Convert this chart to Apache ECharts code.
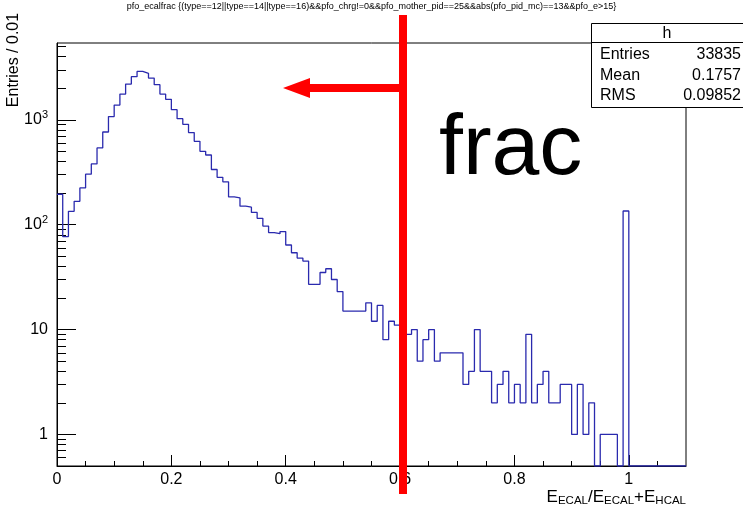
<!DOCTYPE html>
<html><head><meta charset="utf-8">
<script src="https://cdn.jsdelivr.net/npm/echarts@6/dist/echarts.min.js"></script>
<style>html,body{margin:0;padding:0;background:#fff}#c{width:743px;height:511px}</style>
</head><body><div id="c"></div>
<script>
// ---- data ----
const histTitle = 'pfo_ecalfrac {(type==12||type==14||type==16)&&pfo_chrg!=0&&pfo_mother_pid==25&&abs(pfo_pid_mc)==13&&pfo_e>15}';
const xMin = 0, xMax = 1.1, binWidth = 0.01;
const counts = [
  195, 77, 134, 167, 224, 303, 380, 539, 765, 1073,
  1383, 1761, 2193, 2578, 2895, 2773, 2500, 2163, 1761, 1568,
  1250, 1026, 906, 755, 624, 501, 462, 336, 283, 256,
  184, 180, 150, 147, 131, 115, 97, 84, 82, 86,
  64, 54, 48, 45, 27, 27, 35, 38, 30, 23,
  15, 15, 15, 15, 18, 12, 17, 8, 12, 11,
  11, 9, 10, 5, 8, 10, 5, 6, 6, 6,
  6, 3, 4, 10, 4, 4, 2, 3, 4, 2,
  3, 2, 9, 2, 3, 4, 2, 2, 3, 3,
  1, 3, 1, 2, 0, 1, 1, 1, 0, 135,
  0, 0, 0, 0, 0, 0, 0, 0, 0, 0
];
const yMin = 0.5, yMax = 5400;
const xTickValues = [0, 0.2, 0.4, 0.6, 0.8, 1];
const xMinorTickValues = [0.05,0.1,0.15,0.25,0.3,0.35,0.45,0.5,0.55,0.65,0.7,0.75,0.85,0.9,0.95,1.05];
const yTickValues = [1, 10, 100, 1000];
const yMinorTickValues = [0.6,0.7,0.8,0.9,2,3,4,5,6,7,8,9,20,30,40,50,60,70,80,90,200,300,400,500,600,700,800,900,2000,3000,4000,5000];
const statsName = 'h';
const statsLabels = ['Entries', 'Mean', 'RMS'];
const statsValues = ['33835', '0.1757', '0.09852'];
const xTitleParts = ['E', 'ECAL', '/E', 'ECAL', '+E', 'HCAL'];
const yTitle = 'Entries / 0.01';
const annotationText = 'frac';

// ---- build ----
const FONT = 'Liberation Sans, Arial, Helvetica, sans-serif';
const stepData = counts.map((v, i) => [xMin + i * binWidth, v > 0 ? v : yMin]);
stepData.push([xMax, counts[counts.length - 1] > 0 ? counts[counts.length - 1] : yMin]);

const chart = echarts.init(document.getElementById('c'), null, {renderer: 'canvas'});
const G = {left: 57, top: 43, width: 629, height: 423};

function yLab(v) {
  if (v === 1) return '1';
  if (v === 10) return '10';
  const e = Math.round(Math.log10(v));
  return '10{sup|' + e + '}';
}

const option = {
  animation: false,
  backgroundColor: '#fff',
  grid: {left: G.left, top: G.top, width: G.width, height: G.height, show: true, borderColor: '#000', borderWidth: 1, backgroundColor: 'transparent'},
  xAxis: [
    {type: 'value', min: xMin, max: xMax, position: 'bottom',
     axisLine: {show: true, onZero: false, lineStyle: {color: '#000', width: 1}},
     splitLine: {show: false},
     axisTick: {show: true, inside: true, length: 11, lineStyle: {color: '#000'}, customValues: xTickValues},
     axisLabel: {show: true, margin: 6, fontSize: 16, color: '#000', fontFamily: FONT, customValues: xTickValues,
                 formatter: v => String(+v.toFixed(2))}},
    {type: 'value', min: xMin, max: xMax, position: 'bottom',
     axisLine: {show: false}, splitLine: {show: false}, axisLabel: {show: false},
     axisTick: {show: true, inside: true, length: 5, lineStyle: {color: '#000'}, customValues: xMinorTickValues}}
  ],
  yAxis: [
    {type: 'log', logBase: 10, min: yMin, max: yMax, position: 'left',
     axisLine: {show: true, onZero: false, lineStyle: {color: '#000', width: 1}},
     splitLine: {show: false},
     axisTick: {show: true, inside: true, length: 19, lineStyle: {color: '#000'}, customValues: yTickValues},
     axisLabel: {show: true, margin: 9, fontSize: 16, color: '#000', fontFamily: FONT, customValues: yTickValues,
                 formatter: yLab,
                 rich: {sup: {fontSize: 11, fontFamily: FONT, color: '#000', verticalAlign: 'top', padding: [0, 0, 9, 0]}}}},
    {type: 'log', logBase: 10, min: yMin, max: yMax, position: 'left',
     axisLine: {show: false}, splitLine: {show: false}, axisLabel: {show: false},
     axisTick: {show: true, inside: true, length: 9, lineStyle: {color: '#000'}, customValues: yMinorTickValues}}
  ],
  series: [{
    type: 'line', xAxisIndex: 0, yAxisIndex: 0, step: 'end', data: stepData,
    showSymbol: false, symbol: 'none', clip: true,
    lineStyle: {color: '#2a2aae', width: 1.3}
  }],
  graphic: [
    {type: 'text', left: 'center', top: 2, style: {text: histTitle, fontSize: 9, fontFamily: FONT, fill: '#000'}},
    {type: 'text', x: 14, y: 60, rotation: Math.PI / 2, style: {text: yTitle, fontSize: 16, fontFamily: FONT, fill: '#000', align: 'center', verticalAlign: 'middle'}},
    {type: 'text', x: 686, y: 497, style: {
      text: '{b|' + xTitleParts[0] + '}{s|' + xTitleParts[1] + '}{b|' + xTitleParts[2] + '}{s|' + xTitleParts[3] + '}{b|' + xTitleParts[4] + '}{s|' + xTitleParts[5] + '}',
      align: 'right', verticalAlign: 'middle',
      rich: {b: {fontSize: 17, fontFamily: FONT, fill: '#000'}, s: {fontSize: 11.5, fontFamily: FONT, fill: '#000', padding: [8, 0, 0, 0]}}}},
    // stats box
    {type: 'rect', shape: {x: 591.5, y: 23.5, width: 160, height: 84}, style: {fill: '#fff', stroke: '#000', lineWidth: 1}, z: 10},
    {type: 'line', shape: {x1: 591.5, y1: 42.5, x2: 743, y2: 42.5}, style: {stroke: '#000', lineWidth: 1}, z: 11},
    {type: 'text', x: 667, y: 34, style: {text: statsName, fontSize: 16, fontFamily: FONT, fill: '#000', align: 'center', verticalAlign: 'middle'}, z: 11},
    ...statsLabels.map((t, i) => ({type: 'text', x: 600, y: 55 + i * 20.5, style: {text: t, fontSize: 16, fontFamily: FONT, fill: '#000', align: 'left', verticalAlign: 'middle'}, z: 11})),
    ...statsValues.map((t, i) => ({type: 'text', x: 741, y: 55 + i * 20.5, style: {text: t, fontSize: 16, fontFamily: FONT, fill: '#000', align: 'right', verticalAlign: 'middle'}, z: 11})),
    // red annotation
    {type: 'rect', shape: {x: 399, y: 15, width: 8, height: 479}, style: {fill: '#ff0000'}, z: 20},
    {type: 'rect', shape: {x: 306, y: 84, width: 97, height: 8}, style: {fill: '#ff0000'}, z: 20},
    {type: 'polygon', shape: {points: [[283, 88], [310, 78], [310, 98]]}, style: {fill: '#ff0000'}, z: 20},
    {type: 'text', x: 439, y: 107, style: {text: annotationText, fontSize: 86, fontFamily: FONT, fill: '#000', align: 'left', verticalAlign: 'top'}, z: 20}
  ]
};
chart.setOption(option);
</script>
</body></html>
